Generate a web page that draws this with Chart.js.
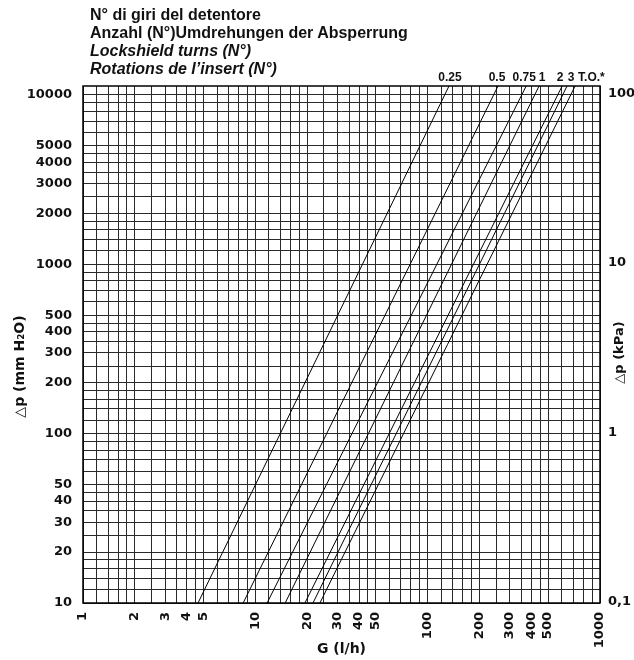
<!DOCTYPE html>
<html>
<head>
<meta charset="utf-8">
<script src="https://cdn.jsdelivr.net/npm/chart.js@4"></script>
<style>
  body { margin: 0; background: #fff; }
  #wrap { position: relative; width: 634px; height: 660px; }
  #head { position: absolute; left: 90px; top: 6px; font: bold 16px "Liberation Sans", Arial, sans-serif; line-height: 18px; color: #111; }
  #head i { font-style: italic; }
</style>
</head>
<body>
<div id="wrap">
  <canvas id="grafico" width="634" height="660"></canvas>
  <div id="head">
    N° di giri del detentore<br>
    Anzahl (N°)Umdrehungen der Absperrung<br>
    <i>Lockshield turns (N°)</i><br>
    <i>Rotations de l’insert (N°)</i>
  </div>
</div>
<script>
// giri del detentore
var giri = ['0.25', '0.5', '0.75', '1', '2', '3', 'T.O.*'];
// portata G (l/h) dove ogni retta tocca il bordo basso e il bordo alto
var gBasso = [4.65, 8.5, 11.7, 14.9, 19.4, 21.6, 23.7];
var gAlto = [133, 256, 373, 443, 603, 644, 717];
var dpEstremi = [10, 11300];

// etichette degli assi
var xEtichette = [1, 2, 3, 4, 5, 10, 20, 30, 40, 50, 100, 200, 300, 400, 500, 1000];
var yEtichette = [10, 20, 30, 40, 50, 100, 200, 300, 400, 500, 1000, 2000, 3000, 4000, 5000, 10000];
var kpaEtichette = [0.1, 1, 10, 100];

// righe della griglia per ogni decade
var passi = [1, 1.2, 1.4, 1.6, 1.8, 2, 2.5, 3, 3.5, 4, 4.5, 5, 6, 7, 8, 9];
function griglia(da, a) {
    var out = [];
    for (var d = da; d < a; d *= 10) {
        passi.forEach(function(p) { out.push(+(d * p).toPrecision(4)); });
    }
    out.push(a);
    return out;
}
var xGriglia = griglia(1, 1000);
var yGriglia = griglia(10, 10000);

var fontAssi = { family: 'DejaVu Sans', weight: 'bold', size: 13 };
var MM_KPA = 101.97;

var datasets = giri.map(function(g, i) {
    return {
        label: g,
        data: [{ x: gBasso[i], y: dpEstremi[0] }, { x: gAlto[i], y: dpEstremi[1] }],
        borderColor: '#000',
        borderWidth: 1,
        pointRadius: 0,
        fill: false
    };
});

function testoVerticale(ctx, testo, x, y) {
    ctx.save();
    ctx.translate(x, y);
    ctx.rotate(-Math.PI / 2);
    ctx.fillText(testo, 0, 0);
    ctx.restore();
}

var bordoEtichette = {
    id: 'bordoEtichette',
    afterDraw: function(chart) {
        var ctx = chart.ctx, a = chart.chartArea, xs = chart.scales.x;
        ctx.save();
        ctx.strokeStyle = '#000';
        ctx.lineWidth = 1.5;
        ctx.strokeRect(a.left, a.top, a.right - a.left, a.bottom - a.top);

        // nomi delle rette sopra il grafico
        var dx = [1, -1, -2, 3, -2, 4, 3];
        ctx.fillStyle = '#111';
        ctx.font = 'bold 12px "Liberation Sans", Arial, sans-serif';
        ctx.textBaseline = 'middle';
        giri.forEach(function(g, i) {
            var px = xs.getPixelForValue(gAlto[i]) + dx[i];
            ctx.textAlign = i === giri.length - 1 ? 'left' : 'center';
            ctx.fillText(g, px, a.top - 8);
        });

        // titoli degli assi verticali
        ctx.font = 'bold 14px "DejaVu Sans"';
        ctx.textAlign = 'center';
        testoVerticale(ctx, '△p (mm H₂O)', 20, (a.top + a.bottom) / 2 + 22);
        ctx.font = 'bold 13px "DejaVu Sans"';
        testoVerticale(ctx, '△p (kPa)', 620, (a.top + a.bottom) / 2 + 8);
        ctx.restore();
    }
};

new Chart(document.getElementById('grafico').getContext('2d'), {
    type: 'line',
    data: { datasets: datasets },
    options: {
        responsive: false,
        animation: false,
        devicePixelRatio: 1,
        layout: { padding: { top: 86 } },
        plugins: { legend: { display: false }, tooltip: { enabled: false } },
        scales: {
            x: {
                type: 'logarithmic',
                min: 1,
                max: 1000,
                afterBuildTicks: function(s) { s.ticks = xGriglia.map(function(v) { return { value: v }; }); },
                afterFit: function(s) { s.height = 57; },
                grid: { color: '#2a2a2a', lineWidth: 1, drawTicks: false },
                border: { display: false },
                ticks: {
                    autoSkip: false,
                    minRotation: 90,
                    maxRotation: 90,
                    padding: 9,
                    color: '#111',
                    font: fontAssi,
                    callback: function(v) { return xEtichette.indexOf(v) >= 0 ? String(v) : ''; }
                },
                title: { display: true, text: 'G (l/h)', color: '#111', font: { family: 'DejaVu Sans', weight: 'bold', size: 14 }, padding: { bottom: 2 } }
            },
            y: {
                type: 'logarithmic',
                position: 'left',
                min: dpEstremi[0],
                max: dpEstremi[1],
                afterBuildTicks: function(s) { s.ticks = yGriglia.map(function(v) { return { value: v }; }); },
                afterFit: function(s) { s.width = 83; },
                grid: { color: '#2a2a2a', lineWidth: 1, drawTicks: false },
                border: { display: false },
                ticks: {
                    autoSkip: false,
                    padding: 11,
                    color: '#111',
                    font: fontAssi,
                    callback: function(v) { return yEtichette.indexOf(v) >= 0 ? String(v) : ''; }
                }
            },
            y2: {
                type: 'logarithmic',
                position: 'right',
                min: dpEstremi[0] / MM_KPA,
                max: dpEstremi[1] / MM_KPA,
                afterBuildTicks: function(s) { s.ticks = kpaEtichette.map(function(v) { return { value: v }; }); },
                afterFit: function(s) { s.width = 34; },
                grid: { display: false, drawTicks: false },
                border: { display: false },
                ticks: {
                    autoSkip: false,
                    padding: 8,
                    color: '#111',
                    font: fontAssi,
                    callback: function(v) { return v === 0.1 ? '0,1' : String(v); }
                }
            }
        }
    },
    plugins: [bordoEtichette]
});
</script>
</body>
</html>
